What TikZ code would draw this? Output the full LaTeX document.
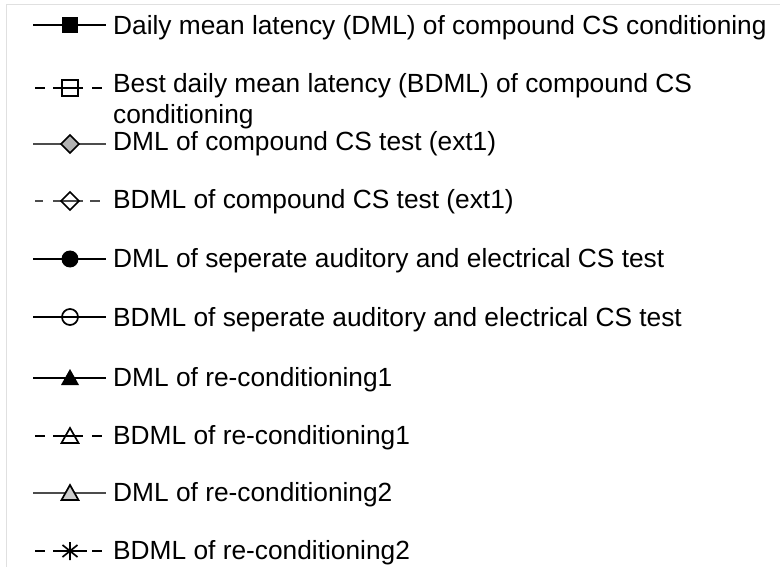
\documentclass[tikz,border=0pt]{standalone}
\usepackage{fontspec}
\setmainfont{Liberation Sans}
\begin{document}
\begin{tikzpicture}[x=1pt,y=-1pt,
  lbl/.style={anchor=base west,inner sep=0pt,font=\fontsize{26.3}{31}\selectfont,align=left},
  solidln/.style={line width=2pt,black},
  grayln/.style={line width=1.4pt,black!70},
  mk/.style={line width=1.7pt,black},
  ]
\useasboundingbox (0,0) rectangle (780,567);
\fill[white] (0,0) rectangle (780,567);
\draw[black!12,line width=1pt] (6,567) -- (6,5) -- (780,5);
% row 1
\coordinate (l1a) at (33,25); \coordinate (l1b) at (106,25);
\draw[solidln] (l1a) -- (l1b);
\fill (62,17) rectangle (78,33);
\node[lbl] (t1) at (113,35) {Daily mean latency (DML) of compound CS conditioning};
% row 2
\draw[solidln] (35,88) -- (45,88) (53,88) -- (83,88) (92,88) -- (102,88);
\draw[mk] (62,80) rectangle (78,96);
\node[lbl] (t2) at (113,124) {Best daily mean latency (BDML) of compound CS\\conditioning};
% row 3
\draw[grayln] (33,144) -- (106,144);
\draw[mk,fill=black!30] (70,135) -- (79,144) -- (70,153) -- (61,144) -- cycle;
\node[lbl] (t3) at (113,151) {DML of compound CS test (ext1)};
% row 4
\draw[grayln] (35,201) -- (43,201) (53,201) -- (83,201) (90,201) -- (100,201);
\draw[mk] (70,192) -- (79,201) -- (70,210) -- (61,201) -- cycle;
\node[lbl] (t4) at (113,209) {BDML of compound CS test (ext1)};
% row 5
\draw[solidln] (33,259) -- (106,259);
\fill (70,259) circle (8.5);
\node[lbl] (t5) at (113,268) {DML of seperate auditory and electrical CS test};
% row 6
\draw[solidln] (33,317) -- (106,317);
\draw[mk] (70,317) circle (8);
\node[lbl] (t6) at (113,326) {BDML of seperate auditory and electrical CS test};
% row 7
\draw[solidln] (33,378) -- (106,378);
\fill (70,369) -- (79,385) -- (61,385) -- cycle;
\node[lbl] (t7) at (113,386) {DML of re-conditioning1};
% row 8
\draw[solidln] (35,436) -- (45,436) (53,436) -- (83,436) (92,436) -- (102,436);
\draw[mk,line join=miter] (70,428) -- (78.5,443) -- (61.5,443) -- cycle;
\node[lbl] (t8) at (113,444) {BDML of re-conditioning1};
% row 9
\draw[grayln] (33,493) -- (106,493);
\draw[mk,fill=black!20] (70,485) -- (78.5,500) -- (61.5,500) -- cycle;
\node[lbl] (t9) at (113,501) {DML of re-conditioning2};
% row 10
\draw[solidln] (35,551) -- (45,551) (53,551) -- (87,551) (92,551) -- (102,551);
\draw[mk] (70,542) -- (70,560) (62.5,545) -- (77.5,557) (77.5,545) -- (62.5,557);
\node[lbl] (t10) at (113,559) {BDML of re-conditioning2};
\end{tikzpicture}
\end{document}
